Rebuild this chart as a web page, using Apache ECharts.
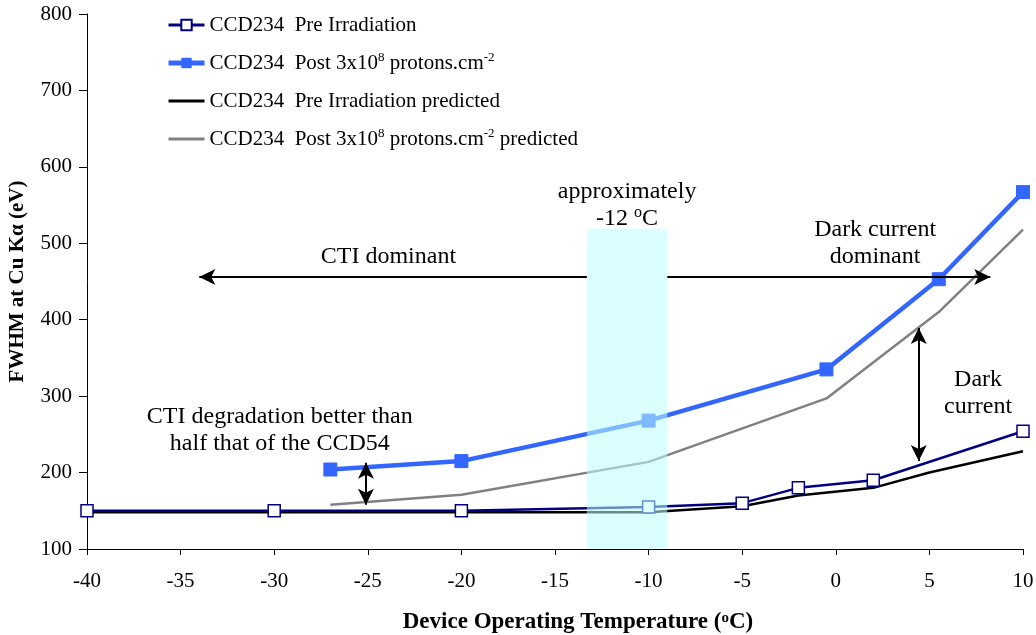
<!DOCTYPE html>
<html><head><meta charset="utf-8">
<script src="https://cdn.jsdelivr.net/npm/echarts@6/dist/echarts.min.js"></script>
<style>html,body{margin:0;padding:0;background:#fff}#c{width:1036px;height:635px}</style>
</head><body><div id="c"></div>
<script>
// ---- data ----
const preTemp   = [-40, -30, -20, -10, -5, -2, 2, 10];
const preFwhm   = [150, 150, 150, 155, 160, 180, 190, 254];
const postTemp  = [-27, -20, -10, -0.5, 5.5, 10];
const postFwhm  = [204, 215, 268, 335, 453, 567];
const prePredTemp = [-40, -30, -20, -10, -5, -2, 2, 5, 10];
const prePredFwhm = [148, 148, 148, 148, 156, 170, 180, 200, 228];
const postPredTemp = [-27, -20, -10, -0.5, 5.5, 10];
const postPredFwhm = [158, 171, 214, 297, 410, 518];
const seriesNames = ['CCD234  Pre Irradiation', 'CCD234  Post 3x10{sup|8} protons.cm{sup|-2}',
  'CCD234  Pre Irradiation predicted', 'CCD234  Post 3x10{sup|8} protons.cm{sup|-2} predicted'];
const xTicks = {min: -40, max: 10, interval: 5};
const yTicks = {min: 100, max: 800, interval: 100};
// annotations (data coordinates)
const band = {x0: -13.3, x1: -9.0, y0: 100, y1: 519};
const hArrowY = 456, hArrowLeft = -34, hArrowRight = 8.25;
const vArrow1 = {x: -25.1, y0: 213, y1: 158};
const vArrow2 = {x: 4.43, y0: 389, y1: 215};
const notes = [
  {x: -11.15, y: 550, text: 'approximately\n-12 {sup|o}C'},
  {x: -23.9, y: 482, text: 'CTI dominant'},
  {x: 2.1, y: 500, text: 'Dark current\ndominant'},
  {x: -29.7, y: 255, text: 'CTI degradation better than\nhalf that of the CCD54'},
  {x: 7.6, y: 304, text: 'Dark\ncurrent'}
];

const zip = (a, b) => a.map((v, i) => [v, b[i]]);
const FONT = 'Liberation Serif';
const sup = {fontSize: 13, lineHeight: 13, verticalAlign: 'top', fontFamily: FONT, color: '#000'};
const supBig = {fontSize: 16, lineHeight: 16, verticalAlign: 'top', fontFamily: FONT, color: '#000'};

const chart = echarts.init(document.getElementById('c'), null, {renderer: 'canvas'});
chart.setOption({
  animation: false,
  backgroundColor: '#fff',
  grid: {left: 87, right: 13, top: 14, bottom: 86, containLabel: false, outerBoundsMode: 'none'},
  legend: {
    orient: 'vertical', left: 161, top: 8, itemGap: 14, itemWidth: 36, itemHeight: 13,
    data: [
      {name: seriesNames[0], lineStyle: {width: 3}},
      {name: seriesNames[1], lineStyle: {width: 5}},
      {name: seriesNames[2], itemStyle: {opacity: 0}, lineStyle: {width: 3}},
      {name: seriesNames[3], itemStyle: {opacity: 0}, lineStyle: {width: 3}}
    ],
    formatter: n => n,
    textStyle: {fontFamily: FONT, fontSize: 21, color: '#000', lineHeight: 24, rich: {sup: sup}}
  },
  xAxis: {
    type: 'value', min: xTicks.min, max: xTicks.max, interval: xTicks.interval,
    axisLine: {onZero: false, lineStyle: {color: '#000', width: 1}},
    axisTick: {show: true, length: 6, lineStyle: {color: '#000'}},
    splitLine: {show: false},
    axisLabel: {fontFamily: FONT, fontSize: 21, color: '#000', margin: 22},
    name: 'Device Operating Temperature ({s|o}C)', nameLocation: 'middle', nameGap: 62,
    nameTextStyle: {fontFamily: FONT, fontSize: 23, fontWeight: 'bold', color: '#000', padding: [0, 0, 0, 46],
      rich: {s: {fontSize: 15, lineHeight: 17, verticalAlign: 'top', fontWeight: 'bold', fontFamily: FONT}}}
  },
  yAxis: {
    type: 'value', min: yTicks.min, max: yTicks.max, interval: yTicks.interval,
    axisLine: {show: true, onZero: false, lineStyle: {color: '#000', width: 1}},
    axisTick: {show: true, length: 8, lineStyle: {color: '#000'}},
    splitLine: {show: false},
    axisLabel: {fontFamily: FONT, fontSize: 21, color: '#000', margin: 15},
    name: 'FWHM at Cu K\u03b1 (eV)', nameLocation: 'middle', nameGap: 59, nameRotate: 90,
    nameTextStyle: {fontFamily: FONT, fontSize: 21, fontWeight: 'bold', color: '#000'}
  },
  series: [
    {name: seriesNames[0], type: 'line', data: zip(preTemp, preFwhm), z: 4,
     lineStyle: {color: '#000080', width: 2.5}, itemStyle: {color: '#fff', borderColor: '#000080', borderWidth: 1.5},
     symbol: 'rect', symbolSize: 12, showAllSymbol: true},
    {name: seriesNames[1], type: 'line', data: zip(postTemp, postFwhm), z: 4,
     lineStyle: {color: '#3366ff', width: 4.5}, itemStyle: {color: '#3366ff', borderColor: '#3366ff'},
     symbol: 'rect', symbolSize: 13},
    {name: seriesNames[2], type: 'line', data: zip(prePredTemp, prePredFwhm), z: 3,
     lineStyle: {color: '#000', width: 2.5}, itemStyle: {color: '#000'}, symbol: 'none'},
    {name: seriesNames[3], type: 'line', data: zip(postPredTemp, postPredFwhm), z: 3,
     lineStyle: {color: '#808080', width: 2.5}, itemStyle: {color: '#808080'}, symbol: 'none'},
    {name: 'annot', type: 'line', data: [], z: 10, silent: true,
     markArea: {silent: true, z: 10, itemStyle: {color: 'rgba(190,255,255,0.55)'},
       data: [[{coord: [band.x0, band.y0]}, {coord: [band.x1, band.y1]}]]},
     markLine: {silent: true, z: 11, symbolSize: [12, 16], label: {show: false},
       lineStyle: {color: '#000', width: 2, type: 'solid'},
       data: [
         [{coord: [band.x0, hArrowY], symbol: 'none'}, {coord: [hArrowLeft, hArrowY], symbol: 'arrow'}],
         [{coord: [band.x1, hArrowY], symbol: 'none'}, {coord: [hArrowRight, hArrowY], symbol: 'arrow'}],
         [{coord: [vArrow1.x, vArrow1.y0], symbol: 'arrow'}, {coord: [vArrow1.x, vArrow1.y1], symbol: 'arrow'}],
         [{coord: [vArrow2.x, vArrow2.y0], symbol: 'arrow'}, {coord: [vArrow2.x, vArrow2.y1], symbol: 'arrow'}]
       ]},
     markPoint: {silent: true, z: 12, symbol: 'circle', symbolSize: 0,
       label: {show: true, position: 'inside', fontFamily: FONT, fontSize: 24, color: '#000', lineHeight: 27, align: 'center',
         rich: {sup: supBig}, formatter: p => p.data.text},
       data: notes.map(n => ({coord: [n.x, n.y], text: n.text}))}
    }
  ]
});
</script></body></html>
